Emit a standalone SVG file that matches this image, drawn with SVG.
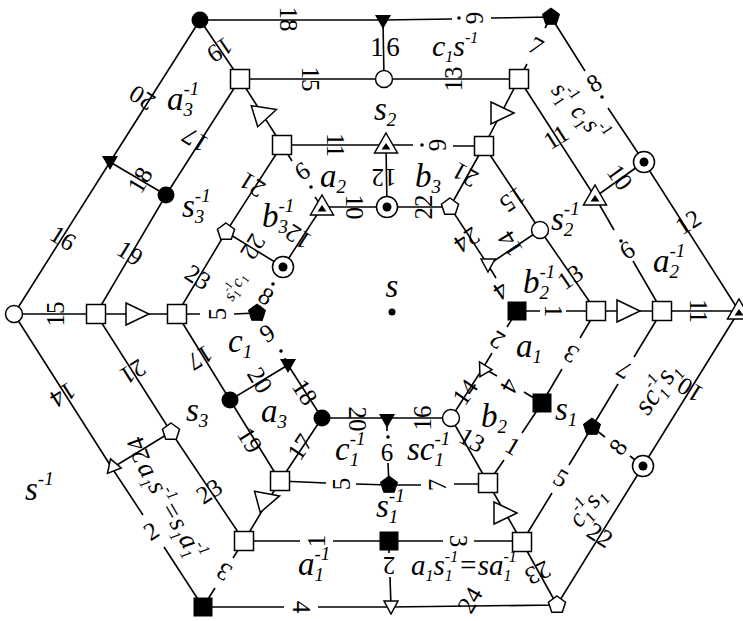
<svg xmlns="http://www.w3.org/2000/svg" width="743" height="621" viewBox="0 0 743 621" font-family="'Liberation Serif', 'Times New Roman', Times, serif">
<style>
.e{stroke:#000;stroke-width:1.6;fill:none;stroke-linecap:butt}
.n{font-family:'Liberation Serif','Times New Roman',Times,serif;font-size:25px;text-anchor:middle;dominant-baseline:central;fill:#000}
.l{font-family:'Liberation Serif','Times New Roman',Times,serif;font-style:italic;font-size:33px;fill:#000}
.s{font-size:19px}
.t{font-size:16px}
.o{fill:#fff;stroke:#000;stroke-width:1.5}
.f{fill:#000}
</style>
<defs>
<g id="sq"><rect class="o" x="-9.5" y="-9.5" width="19" height="19"/></g>
<g id="fsq"><rect class="f" x="-9.5" y="-9.5" width="19" height="19"/></g>
<g id="oc"><circle class="o" r="8.5"/></g>
<g id="fc"><circle class="f" r="8.5"/></g>
<g id="bull"><circle class="o" r="10.5"/><circle class="f" r="4.5"/></g>
<g id="pent"><polygon class="o" points="0,-9 8.56,-2.78 5.29,7.28 -5.29,7.28 -8.56,-2.78"/></g>
<g id="fpent"><polygon class="f" stroke="#000" stroke-width="1" points="0,-9 8.56,-2.78 5.29,7.28 -5.29,7.28 -8.56,-2.78"/></g>
<g id="btri"><polygon class="o" points="-11,-11 12,0 -11,11"/></g>
<g id="tdot"><polygon class="o" points="0,-12 11.5,8 -11.5,8"/><polygon class="f" points="0,-2 4.5,4.5 -4.5,4.5"/></g>
<g id="ftri"><polygon class="f" points="-8,-6 8,-6 0,8"/></g>
<g id="otri"><polygon class="o" points="-7,-6 7,-6 0,7"/></g>
</defs>

<g id="connectors">
<path class="e" d="M200,20 L383,20 M383,20 L452,19 M491,18 L551,17 M551,17 L585,71 M608,108 L644,162 M644,162 L739,311 M739,311 L643,466 M643,466 L557,605 M557,605 L391,607 M391,607 L318,607 M284,607 L203,607 M203,607 L164,547 M143,515 L112,468 M112,468 L14,314 M14,314 L110,162 M110,162 L200,20"/>
<path class="e" d="M200,20 L240,79 M551,17 L545,28 M527,64 L519,79 M739,311 L662,311 M557,605 L522,542 M203,607 L215,588 M233,558 L244,541 M14,314 L96,314"/>
<path class="e" d="M240,79 L519,79 M519,79 L595,197 M595,197 L614,230 M633,261 L662,311 M662,311 L634,357 M618,384 L592,427 M592,427 L569,465 M552,493 L522,542 M522,541 L474,541 M443,541 L389,541 M389,541 L333,541 M300,541 L244,541 M244,541 L171,432 L96,314 L166,195 L240,79"/>
<path class="e" d="M240,79 L282,145 M519,79 L484,146 M662,311 L596,311 M522,542 L488,483 M244,541 L280,481 M96,314 L177,314"/>
<path class="e" d="M282,145 L386,145 M386,145 L413,145 M453,146 L484,146 M484,146 L540,230 L596,311 M596,311 L580,338 M562,369 L542,403 M542,403 L522,433 M504,460 L488,483 M488,484 L454,484 M421,485 L389,485 M389,485 L356,484 M326,483 L280,481 M280,481 L230,400 L177,314 M177,314 L226,232 L282,145"/>
<path class="e" d="M282,145 L292,161 M315,197 L322,207 M484,146 L450,207 M596,311 L566,311 M540,311 L517,311 M488,483 L451,418 M280,481 L322,418 M177,314 L200,314 M234,314 L257,313"/>
<path class="e" d="M386,145 L387,207 M540,230 L488,265 M542,403 L524,392 M497,376 L483,368 M389,485 L388,463 M387,431 L387,420 M230,400 L288,365 M226,232 L283,267"/>
<path class="e" d="M322,207 L450,207 L488,265 L496,278 M511,302 L517,311 L507,327 M492,353 L483,368 L451,418 L322,418 L288,365 L285,358 M262,321 L257,313 L261,306 M279,275 L283,267 L322,207"/>
<path class="e" d="M384,79 L383,20 M595,197 L644,162 M592,427 L605,437 M630,456 L643,466 M389,541 L389,553 M390,577 L391,607 M171,432 L112,468 M166,195 L110,162"/>
<g class="f">
<circle cx="459" cy="18" r="1.8"/><circle cx="602" cy="97" r="1.8"/><circle cx="621" cy="241" r="1.8"/><circle cx="422" cy="145" r="1.8"/><circle cx="311" cy="187" r="1.8"/><circle cx="388" cy="437" r="1.8"/><circle cx="281" cy="351" r="1.8"/><circle cx="273" cy="284" r="1.8"/>
</g>
</g>

<g id="nodes">
<g id="A1"><use href="#fc" x="200" y="20"/></g>
<g id="A2"><use href="#fpent" x="551" y="17"/></g>
<g id="A3"><use href="#tdot" x="739" y="311"/></g>
<g id="A4"><use href="#pent" x="557" y="605"/></g>
<g id="A5"><use href="#fsq" x="203" y="607"/></g>
<g id="A6"><use href="#oc" x="14" y="314"/></g>
<g id="B1"><use href="#sq" x="240" y="79"/></g>
<g id="B2"><use href="#sq" x="519" y="79"/></g>
<g id="B3"><use href="#sq" x="662" y="311"/></g>
<g id="B4"><use href="#sq" x="522" y="542"/></g>
<g id="B5"><use href="#sq" x="244" y="541"/></g>
<g id="B6"><use href="#sq" x="96" y="314"/></g>
<g id="C1"><use href="#sq" x="282" y="145"/></g>
<g id="C2"><use href="#sq" x="484" y="146"/></g>
<g id="C3"><use href="#sq" x="596" y="311"/></g>
<g id="C4"><use href="#sq" x="488" y="483"/></g>
<g id="C5"><use href="#sq" x="280" y="481"/></g>
<g id="C6"><use href="#sq" x="177" y="314"/></g>
<g id="D1"><use href="#tdot" x="322" y="207"/></g>
<g id="D2"><use href="#pent" x="450" y="207"/></g>
<g id="D3"><use href="#fsq" x="517" y="311"/></g>
<g id="D4"><use href="#oc" x="451" y="418"/></g>
<g id="D5"><use href="#fc" x="322" y="418"/></g>
<g id="D6"><use href="#fpent" x="257" y="313"/></g>
<g id="oT"><use href="#ftri" x="383" y="21"/></g>
<g id="oTR"><use href="#bull" x="644" y="162"/></g>
<g id="oBR"><use href="#bull" x="643" y="466"/></g>
<g id="oB"><use href="#otri" x="391" y="607"/></g>
<g id="oBL"><g transform="translate(112,468) rotate(40)"><use href="#otri"/></g></g>
<g id="oTL"><use href="#ftri" x="110" y="162"/></g>
<g id="bT"><use href="#oc" x="384" y="79"/></g>
<g id="bTR"><use href="#tdot" x="595" y="197"/></g>
<g id="bBR"><use href="#fpent" x="592" y="427"/></g>
<g id="bB"><use href="#fsq" x="389" y="541"/></g>
<g id="bBL"><use href="#pent" x="171" y="432"/></g>
<g id="bTL"><use href="#fc" x="166" y="195"/></g>
<g id="cT"><use href="#tdot" x="386" y="145"/></g>
<g id="cTR"><use href="#oc" x="540" y="230"/></g>
<g id="cBR"><use href="#fsq" x="542" y="403"/></g>
<g id="cB"><use href="#fpent" x="389" y="485"/></g>
<g id="cBL"><use href="#fc" x="230" y="400"/></g>
<g id="cTL"><use href="#pent" x="226" y="232"/></g>
<g id="dT"><use href="#bull" x="387" y="207"/></g>
<g id="dTR"><use href="#otri" x="488" y="265"/></g>
<g id="dBR"><g transform="translate(483,368) rotate(150)"><use href="#otri"/></g></g>
<g id="dB"><use href="#ftri" x="387" y="420"/></g>
<g id="dBL"><use href="#ftri" x="288" y="365"/></g>
<g id="dTL"><use href="#bull" x="283" y="267"/></g>
<g id="t1"><g transform="translate(265,113) rotate(-17)"><use href="#btri"/></g></g>
<g id="t2"><use href="#btri" x="502" y="113"/></g>
<g id="t3"><use href="#btri" x="628" y="311"/></g>
<g id="t4"><use href="#btri" x="505" y="513"/></g>
<g id="t5"><g transform="translate(268,499) rotate(-15)"><use href="#btri"/></g></g>
<g id="t6"><use href="#btri" x="137" y="314"/></g>
<circle class="f" cx="392" cy="312" r="3.5"/>
</g>

<g id="edge-labels">
<text class="n" transform="translate(288,19) rotate(90)">18</text>
<text class="n" transform="translate(474,18) rotate(90)">6</text>
<text class="n" transform="translate(594,83) rotate(-32)">8</text>
<text class="n" transform="translate(688,222) rotate(-32)">12</text>
<text class="n" transform="translate(690,390) rotate(-148)">10</text>
<text class="n" transform="translate(600,535) rotate(32)">22</text>
<text class="n" transform="translate(470,600) rotate(-60)">24</text>
<text class="n" transform="translate(301,607) rotate(90)">4</text>
<text class="n" transform="translate(151,531) rotate(-33)">2</text>
<text class="n" transform="translate(63,395) rotate(148)">14</text>
<text class="n" transform="translate(63,238) rotate(32)">16</text>
<text class="n" transform="translate(142,98) rotate(-148)">20</text>
<text class="n" transform="translate(310,79) rotate(90)">15</text>
<text class="n" transform="translate(453,79) rotate(-90)">13</text>
<text class="n" transform="translate(556,137) rotate(-32)">11</text>
<text class="n" transform="translate(627,250) rotate(-32)">6</text>
<text class="n" transform="translate(624,370) rotate(-149)">7</text>
<text class="n" transform="translate(561,478) rotate(31)">5</text>
<text class="n" transform="translate(458,541) rotate(90)">3</text>
<text class="n" transform="translate(316,541) rotate(-90)">1</text>
<text class="n" transform="translate(209,491) rotate(-33)">23</text>
<text class="n" transform="translate(133,372) rotate(148)">21</text>
<text class="n" transform="translate(130,253) rotate(32)">19</text>
<text class="n" transform="translate(195,140) rotate(-148)">17</text>
<text class="n" transform="translate(220,50) rotate(146)">19</text>
<text class="n" transform="translate(536,46) rotate(28)">7</text>
<text class="n" transform="translate(698,311) rotate(90)">11</text>
<text class="n" transform="translate(538,573) rotate(154)">23</text>
<text class="n" transform="translate(224,572) rotate(-148)">3</text>
<text class="n" transform="translate(55,314) rotate(-90)">15</text>
<text class="n" transform="translate(335,145) rotate(90)">11</text>
<text class="n" transform="translate(437,145) rotate(90)">6</text>
<text class="n" transform="translate(513,200) rotate(146)">15</text>
<text class="n" transform="translate(570,277) rotate(-34)">13</text>
<text class="n" transform="translate(571,354) rotate(-149)">3</text>
<text class="n" transform="translate(513,446) rotate(31)">1</text>
<text class="n" transform="translate(437,485) rotate(-90)">7</text>
<text class="n" transform="translate(341,484) rotate(-90)">5</text>
<text class="n" transform="translate(250,440) rotate(58)">19</text>
<text class="n" transform="translate(200,358) rotate(148)">17</text>
<text class="n" transform="translate(198,277) rotate(32)">23</text>
<text class="n" transform="translate(252,185) rotate(-148)">21</text>
<text class="n" transform="translate(302,171) rotate(-33)">6</text>
<text class="n" transform="translate(465,175) rotate(-151)">21</text>
<text class="n" transform="translate(553,311) rotate(90)">1</text>
<text class="n" transform="translate(472,440) rotate(30)">13</text>
<text class="n" transform="translate(300,447) rotate(-56)">17</text>
<text class="n" transform="translate(217,314) rotate(-90)">5</text>
<text class="n" transform="translate(384,177) rotate(180)">12</text>
<text class="n" transform="translate(510,244) rotate(-122)">14</text>
<text class="n" transform="translate(510,386) rotate(119)">4</text>
<text class="n" transform="translate(387,452)">6</text>
<text class="n" transform="translate(260,380) rotate(59)">20</text>
<text class="n" transform="translate(253,247) rotate(121)">22</text>
<text class="n" transform="translate(354,207) rotate(90)">10</text>
<text class="n" transform="translate(423,207) rotate(-90)">22</text>
<text class="n" transform="translate(467,240) rotate(146)">24</text>
<text class="n" transform="translate(501,291) rotate(146)">4</text>
<text class="n" transform="translate(497,340) rotate(-149)">2</text>
<text class="n" transform="translate(465,392) rotate(-55)">14</text>
<text class="n" transform="translate(422,418) rotate(-90)">16</text>
<text class="n" transform="translate(357,419) rotate(90)">20</text>
<text class="n" transform="translate(305,392) rotate(57)">18</text>
<text class="n" transform="translate(267,333) rotate(-33)">9</text>
<text class="n" transform="translate(266,296) rotate(33)">8</text>
<text class="n" transform="translate(298,237) rotate(-147)">12</text>
<text class="n" transform="translate(620,177) rotate(54)">10</text>
<text class="n" transform="translate(618,447) rotate(-53)">8</text>
<text class="n" transform="translate(389,565) rotate(180)">2</text>
<text class="n" transform="translate(138,450) rotate(-110)">24</text>
<text class="n" transform="translate(140,180) rotate(-60)">18</text>
<text class="n" x="377" y="47" style="font-size:27px">1</text>
<text class="n" x="393" y="47" style="font-size:27px">6</text>
</g>

<g id="face-labels">
<text class="l" x="432" y="56" style="font-size:30px">c<tspan class="t" dy="6">1</tspan><tspan dy="-6">s</tspan><tspan class="t" dy="-13">-1</tspan></text>
<text class="l" x="374" y="120">s<tspan class="s" dy="6">2</tspan></text>
<text class="l" x="320" y="187">a<tspan class="s" dy="6">2</tspan></text>
<text class="l" x="415" y="187">b<tspan class="s" dy="6">3</tspan></text>
<text class="l" x="262" y="227">b<tspan class="s" dy="6">3</tspan><tspan class="s" dx="-9.5" dy="-21">-1</tspan></text>
<text class="l" x="182" y="217">s<tspan class="s" dy="6">3</tspan><tspan class="s" dx="-9.5" dy="-21">-1</tspan></text>
<text class="l" x="167" y="110">a<tspan class="s" dy="6">3</tspan><tspan class="s" dx="-9.5" dy="-21">-1</tspan></text>
<text class="l" x="392" y="297" text-anchor="middle">s</text>
<text class="l" x="228" y="352">c<tspan class="s" dy="6">1</tspan></text>
<text class="l" x="261" y="422">a<tspan class="s" dy="6">3</tspan></text>
<text class="l" x="186" y="421">s<tspan class="s" dy="6">3</tspan></text>
<text class="l" x="335" y="460">c<tspan class="s" dy="6">1</tspan><tspan class="s" dx="-9.5" dy="-21">-1</tspan></text>
<text class="l" x="407" y="460">sc<tspan class="s" dy="6">1</tspan><tspan class="s" dx="-9.5" dy="-21">-1</tspan></text>
<text class="l" x="376" y="517">s<tspan class="s" dy="6">1</tspan><tspan class="s" dx="-9.5" dy="-21">-1</tspan></text>
<text class="l" x="298" y="575">a<tspan class="s" dy="6">1</tspan><tspan class="s" dx="-9.5" dy="-21">-1</tspan></text>
<text class="l" x="411" y="575" style="font-size:29px">a<tspan class="t" dy="6">1</tspan><tspan dy="-6">s</tspan><tspan class="t" dy="6">1</tspan><tspan class="t" dx="-8" dy="-19">-1</tspan><tspan dy="13">=sa</tspan><tspan class="t" dy="6">1</tspan><tspan class="t" dx="-8" dy="-19">-1</tspan></text>
<text class="l" x="516" y="357">a<tspan class="s" dy="6">1</tspan></text>
<text class="l" x="523" y="293">b<tspan class="s" dy="6">2</tspan><tspan class="s" dx="-9.5" dy="-21">-1</tspan></text>
<text class="l" x="551" y="230">s<tspan class="s" dy="6">2</tspan><tspan class="s" dx="-9.5" dy="-21">-1</tspan></text>
<text class="l" x="653" y="272">a<tspan class="s" dy="6">2</tspan><tspan class="s" dx="-9.5" dy="-21">-1</tspan></text>
<text class="l" x="555" y="420">s<tspan class="s" dy="6">1</tspan></text>
<text class="l" x="481" y="427">b<tspan class="s" dy="6">2</tspan></text>
<text class="l" x="25" y="500">s<tspan class="s" dy="-15">-1</tspan></text>
<text class="l" text-anchor="middle" transform="translate(657,388) rotate(-55)" y="9" style="font-size:29px">sc<tspan class="t" dy="6">1</tspan><tspan class="t" dx="-8" dy="-19">-1</tspan><tspan dy="13">s</tspan><tspan class="t" dy="6">1</tspan></text>
<text class="l" text-anchor="middle" transform="translate(587,507) rotate(-52)" y="8" style="font-size:26px">c<tspan class="t" dy="6">1</tspan><tspan class="t" dx="-8" dy="-18">-1</tspan><tspan dy="12">s</tspan><tspan class="t" dy="6">1</tspan></text>
<text class="l" text-anchor="middle" transform="translate(580,112) rotate(48)" y="8" style="font-size:25px">s<tspan class="t" dy="6">1</tspan><tspan class="t" dx="-8" dy="-17">-1</tspan><tspan dy="11"> c</tspan><tspan class="t" dy="6">1</tspan><tspan dy="-6">s</tspan><tspan class="t" dy="-11">-1</tspan></text>
<text class="l" text-anchor="middle" transform="translate(171,511) rotate(60)" y="8" style="font-size:27px">a<tspan class="t" dy="6">1</tspan><tspan dy="-6">s</tspan><tspan class="t" dy="-12">-1</tspan><tspan dy="12">=s</tspan><tspan class="t" dy="6">1</tspan><tspan dy="-6">a</tspan><tspan class="t" dy="6">1</tspan><tspan class="t" dx="-8" dy="-18">-1</tspan></text>
<text class="l" text-anchor="middle" transform="translate(235,287) rotate(-62)" y="5" style="font-size:17px">s<tspan style="font-size:11px" dy="4">1</tspan><tspan style="font-size:11px" dx="-5.5" dy="-12">-1</tspan><tspan dy="8">c</tspan><tspan style="font-size:11px" dy="4">1</tspan></text>
</g>
</svg>
